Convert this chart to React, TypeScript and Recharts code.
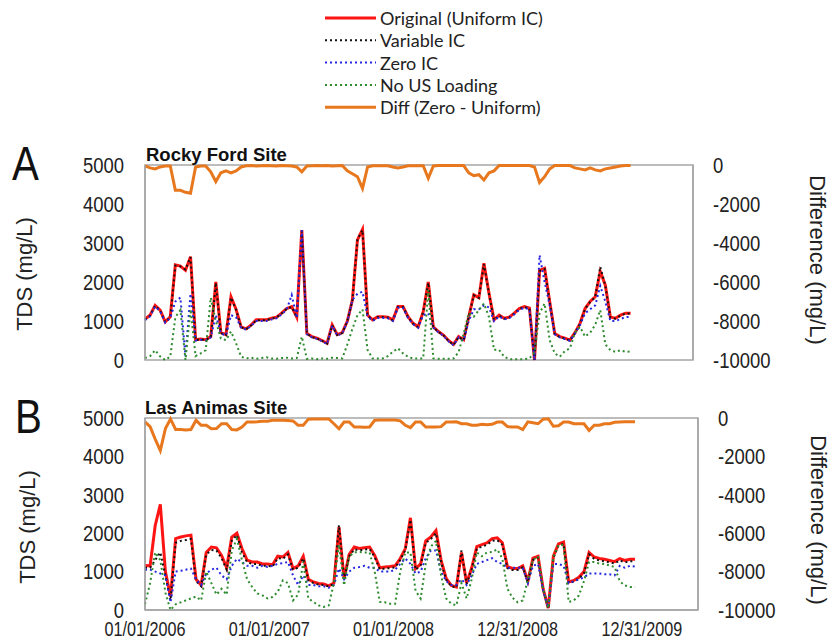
import React from "react";
import { LineChart, Line, XAxis, YAxis, ReferenceArea } from "recharts";

// ---------- shared axis data ----------
const days = [
  0, 15, 30, 45, 60, 75, 90, 105, 120, 135, 150, 165, 180, 195, 210, 225, 240, 255, 270, 285,
  300, 315, 330, 345, 360, 375, 390, 405, 420, 435, 450, 465, 480, 495, 510, 525, 540, 555, 570, 585,
  600, 615, 630, 645, 660, 675, 690, 705, 720, 735, 750, 765, 780, 795, 810, 825, 840, 855, 870, 885,
  900, 915, 930, 945, 960, 975, 990, 1005, 1020, 1035, 1050, 1065, 1080, 1095, 1110, 1125, 1140, 1155, 1170, 1185,
  1200, 1215, 1230, 1245, 1260, 1275, 1290, 1305, 1320, 1335, 1350, 1365, 1380, 1395, 1410, 1425, 1440,
];
const xTicks = [0, 365, 730, 1095, 1460];
const xTickLabels = ["01/01/2006", "01/01/2007", "01/01/2008", "12/31/2008", "12/31/2009"];
const tdsTicks = [0, 1000, 2000, 3000, 4000, 5000];
const diffTicks = [-10000, -8000, -6000, -4000, -2000, 0];
const seriesNames = ["Original (Uniform IC)", "Variable IC", "Zero IC", "No US Loading", "Diff (Zero - Uniform)"];

// ---------- Rocky Ford Site (A) ----------
const rockyOriginal = [
  1050, 1150, 1400, 1280, 980, 1110, 2440, 2410, 2300, 2650,
  520, 540, 520, 600, 2000, 700, 650, 1620, 1300, 850,
  800, 900, 1030, 1030, 1030, 1070, 1100, 1200, 1320, 1370,
  1100, 3330, 680, 600, 560, 500, 430, 900, 650, 700,
  1000, 1540, 3080, 3350, 1150, 1030, 1110, 1110, 1100, 1030,
  1370, 1370, 1110, 940, 850, 1240, 2000, 850, 730, 640,
  500, 400, 600, 520, 1110, 1670, 1600, 2480, 1710, 1030,
  1150, 1070, 1100, 1200, 1320, 1370, 1330, 0, 2300, 2350,
  1500, 680, 600, 560, 510, 700, 940, 1320, 1500, 1620,
  2270, 1920, 1100, 1070, 1150, 1200, 1200,
];
const rockyVariable = [
  1040, 1140, 1390, 1270, 970, 1100, 2420, 2400, 2320, 2640,
  510, 530, 510, 590, 1980, 690, 640, 1600, 1290, 840,
  790, 890, 1020, 1020, 1020, 1060, 1090, 1190, 1310, 1360,
  1090, 3300, 670, 590, 550, 490, 420, 890, 640, 690,
  990, 1530, 3100, 3330, 1140, 1020, 1100, 1100, 1090, 1020,
  1360, 1360, 1100, 930, 840, 1230, 1980, 840, 720, 630,
  490, 390, 590, 510, 1100, 1660, 1590, 2460, 1700, 1020,
  1140, 1060, 1090, 1190, 1310, 1360, 1320, 0, 2280, 2330,
  1490, 670, 590, 550, 500, 690, 930, 1310, 1490, 1610,
  2390, 1910, 1090, 1060, 1140, 1190, 1190,
];
const rockyZero = [
  1020, 1120, 1370, 1250, 960, 1080, 1500, 1600, 100, 1700,
  500, 520, 500, 580, 1150, 680, 630, 1150, 1100, 830,
  780, 880, 1000, 1000, 1000, 1040, 1070, 1170, 1290, 1670,
  1080, 3330, 660, 580, 540, 480, 410, 880, 630, 680,
  980, 1540, 1700, 1750, 1120, 1000, 1080, 1080, 1070, 1000,
  1340, 1340, 1080, 920, 830, 1150, 1200, 830, 710, 620,
  480, 380, 580, 500, 1000, 1300, 1300, 1400, 1350, 1000,
  1120, 1040, 1070, 1170, 1290, 1340, 1300, 0, 2690, 2000,
  1400, 660, 580, 540, 490, 680, 900, 1200, 1300, 1400,
  1900, 1500, 1000, 1000, 1050, 1100, 1100,
];
const rockyNoUS = [
  50, 100, 250, 90, 0, 90, 1100, 1280, 0, 1300,
  100, 170, 250, 1600, 1000, 550, 510, 730, 430, 85,
  40, 60, 30, 50, 70, 40, 30, 50, 60, 40,
  50, 600, 30, 40, 20, 40, 30, 60, 50, 40,
  400, 800, 1150, 1300, 260, 40, 40, 40, 100, 210,
  300, 170, 80, 40, 40, 40, 1800, 40, 30, 30,
  30, 40, 200, 680, 1200, 1110, 1280, 1450, 1100, 260,
  260, 85, 20, 20, 20, 20, 40, 200, 1200, 1450,
  510, 170, 85, 230, 300, 700, 850, 600, 700, 900,
  1280, 400, 250, 210, 250, 210, 220,
];
const rockyDiff = [
  -50, -150, -200, -100, -50, -50, -1300, -1300, -1400, -1450,
  -100, -50, -50, -350, -850, -400, -300, -400, -300, -100,
  -40, -30, -50, -40, -30, -40, -50, -30, -40, -50,
  -100, -350, -50, -40, -30, -40, -30, -50, -40, -30,
  -300, -450, -600, -1200, -100, -40, -40, -40, -40, -100,
  -150, -100, -40, -40, -40, -40, -680, -50, -30, -30,
  -30, -30, -30, -30, -400, -550, -500, -770, -400, -300,
  -30, -30, -30, -30, -30, -30, -30, -100, -900, -600,
  -200, -30, -30, -30, -30, -150, -200, -250, -150, -250,
  -300, -200, -150, -100, -50, -30, -30,
];

// ---------- Las Animas Site (B) ----------
const animasOriginal = [
  1160, 1150, 2200, 2750, 1000, 350, 1860, 1900, 1930, 1950,
  800, 650, 1500, 1640, 1620, 1420, 1100, 1900, 2000, 1600,
  1300, 1250, 1250, 1200, 1200, 1180, 1400, 1380, 1500, 1080,
  1150, 1400, 800, 730, 690, 680, 630, 700, 2160, 820,
  1450, 1640, 1600, 1620, 1640, 1420, 1100, 1120, 1130, 1150,
  1340, 1600, 2400, 1080, 1200, 1800, 1900, 2070, 1300, 820,
  640, 600, 1500, 700, 1100, 1650, 1700, 1750, 1860, 1880,
  1750, 1130, 1080, 1080, 1150, 750, 1350, 1400, 550, 50,
  1400, 1720, 1770, 730, 770, 850, 1000, 1500, 1380, 1340,
  1320, 1290, 1260, 1340, 1290, 1320, 1320,
];
const animasVariable = [
  1100, 1100, 1300, 1500, 900, 250, 1750, 1800, 1820, 1850,
  750, 620, 1450, 1560, 1550, 1350, 1050, 1800, 1950, 1500,
  1250, 1200, 1200, 1150, 1150, 1130, 1350, 1330, 1450, 1050,
  1100, 1350, 780, 700, 660, 650, 610, 680, 2210, 800,
  1400, 1580, 1550, 1570, 1590, 1380, 1060, 1080, 1090, 1110,
  1300, 1560, 2350, 1050, 1160, 1750, 1850, 2000, 1250, 790,
  620, 580, 1550, 680, 1060, 1600, 1650, 1700, 1800, 1820,
  1700, 1090, 1040, 1040, 1110, 720, 1300, 1360, 530, 40,
  1350, 1680, 1720, 700, 740, 820, 960, 1450, 1330, 1290,
  1270, 1240, 1210, 1290, 1240, 1270, 1270,
];
const animasZero = [
  1050, 1050, 1000, 950, 900, 200, 1000, 1020, 1050, 1080,
  800, 650, 950, 1050, 1100, 900, 800, 1150, 1330, 1250,
  1150, 1150, 1100, 1150, 1120, 1150, 1200, 1220, 1250, 900,
  650, 900, 650, 650, 620, 620, 580, 650, 1080, 800,
  1000, 1100, 1120, 1150, 1100, 1100, 1000, 1000, 1000, 1050,
  1200, 1340, 1200, 950, 1000, 1350, 1550, 1550, 1000, 750,
  650, 650, 800, 650, 900, 1200, 1250, 1300, 1350, 1250,
  1200, 1100, 1100, 1100, 1100, 700, 1150, 1200, 500, 60,
  1200, 1200, 1150, 700, 750, 800, 850, 950, 950, 950,
  930, 930, 900, 1150, 1100, 1150, 1130,
];
const animasNoUS = [
  150, 700, 1500, 1300, 450, 0, 150, 200, 250, 300,
  350, 250, 1000, 700, 400, 550, 400, 1550, 1850, 1300,
  800, 600, 430, 380, 300, 340, 470, 770, 700, 250,
  400, 1250, 300, 210, 120, 80, 120, 700, 1700, 640,
  1400, 1500, 1510, 1500, 1500, 1000, 210, 200, 165, 165,
  1000, 1500, 1500, 500, 300, 1200, 1650, 1800, 900, 300,
  165, 120, 700, 300, 800, 1500, 1400, 1500, 1510, 1580,
  1340, 550, 320, 200, 250, 800, 1300, 1400, 550, 50,
  1400, 1690, 1690, 210, 250, 380, 750, 1250, 1250, 1210,
  1200, 1160, 1120, 750, 640, 600, 600,
];
const animasDiff = [
  -200, -450, -1100, -1700, -550, -50, -600, -600, -620, -600,
  -120, -380, -380, -560, -550, -300, -300, -600, -620, -470,
  -210, -210, -200, -170, -170, -120, -120, -120, -130, -150,
  -380, -380, -60, -50, -50, -50, -50, -300, -560, -210,
  -210, -470, -470, -480, -470, -120, -100, -100, -100, -100,
  -150, -380, -500, -210, -210, -470, -470, -470, -450, -210,
  -210, -200, -300, -300, -380, -380, -330, -350, -330, -210,
  -210, -450, -470, -470, -600, -200, -250, -300, -60, -40,
  -430, -400, -210, -210, -300, -300, -300, -650, -380, -380,
  -300, -300, -220, -210, -200, -200, -200,
];

// ---------- styling ----------
const SANS = "'Liberation Sans',Arial,sans-serif";
const AXIS_GRAY = "#a6a6a6";
const TEXT = "#222";
const COLORS = {
  orig: "#ff1414",
  variable: "#111111",
  zero: "#2626e0",
  noUS: "#2e8b2e",
  diff: "#e8781e",
};

function buildRows(orig: number[], variable: number[], zero: number[], noUS: number[], diff: number[]) {
  return days.map((d, i) => ({
    day: d,
    orig: orig[i],
    variable: variable[i],
    zero: zero[i],
    noUS: noUS[i],
    diff: diff[i],
  }));
}

const rowsA = buildRows(rockyOriginal, rockyVariable, rockyZero, rockyNoUS, rockyDiff);
const rowsB = buildRows(animasOriginal, animasVariable, animasZero, animasNoUS, animasDiff);

// condensed tick labels (the reference uses a narrow face)
function YTick(props: any) {
  const { x, y, payload, textAnchor } = props;
  return (
    <g transform={`translate(${x},${y})`}>
      <text transform="scale(0.84,1)" textAnchor={textAnchor} dy="0.355em" fontSize={22} fontFamily={SANS} fill={TEXT}>
        {String(payload.value)}
      </text>
    </g>
  );
}

function XTick(props: any) {
  const { x, y, payload } = props;
  const idx = xTicks.indexOf(payload.value);
  return (
    <g transform={`translate(${x},${y})`}>
      <text transform="scale(0.77,1)" textAnchor="middle" dy="0.71em" fontSize={21} fontFamily={SANS} fill={TEXT}>
        {idx >= 0 ? xTickLabels[idx] : ""}
      </text>
    </g>
  );
}

type PanelProps = {
  top: number;
  height: number;
  bottom: number;
  rightAxisWidth: number;
  rows: any[];
  showXAxis: boolean;
};

function Panel({ top, height, bottom, rightAxisWidth, rows, showXAxis }: PanelProps) {
  return (
    <div style={{ position: "absolute", left: 0, top, width: 830, height }}>
      <LineChart
        width={830}
        height={height}
        data={rows}
        margin={{ top: 45, right: 0, bottom, left: 0 }}
      >
        <XAxis
          dataKey="day"
          type="number"
          domain={[0, 1625]}
          ticks={xTicks}
          interval={0}
          hide={!showXAxis}
          height={34}
          tickLine={false}
          tickSize={0}
          tickMargin={11}
          axisLine={{ stroke: AXIS_GRAY, strokeWidth: 1.5 }}
          tick={<XTick />}
        />
        <YAxis
          yAxisId="tds"
          orientation="left"
          domain={[0, 5000]}
          ticks={tdsTicks}
          interval={0}
          width={145}
          tickLine={false}
          tickSize={0}
          tickMargin={21}
          axisLine={{ stroke: AXIS_GRAY, strokeWidth: 1.5 }}
          tick={<YTick />}
        />
        <YAxis
          yAxisId="diff"
          orientation="right"
          domain={[-10000, 0]}
          ticks={diffTicks}
          interval={0}
          width={rightAxisWidth}
          tickLine={false}
          tickSize={0}
          tickMargin={20}
          axisLine={{ stroke: AXIS_GRAY, strokeWidth: 1.5 }}
          tick={<YTick />}
        />
        <ReferenceArea
          yAxisId="tds"
          x1={0}
          x2={1625}
          y1={0}
          y2={5000}
          fill="none"
          stroke={AXIS_GRAY}
          strokeWidth={1.5}
        />
        <Line yAxisId="tds" type="linear" dataKey="orig" name={seriesNames[0]} stroke={COLORS.orig} strokeWidth={3} dot={false} isAnimationActive={false} />
        <Line yAxisId="tds" type="linear" dataKey="variable" name={seriesNames[1]} stroke={COLORS.variable} strokeWidth={2} strokeDasharray="2 3" dot={false} isAnimationActive={false} />
        <Line yAxisId="tds" type="linear" dataKey="zero" name={seriesNames[2]} stroke={COLORS.zero} strokeWidth={2} strokeDasharray="2 3" dot={false} isAnimationActive={false} />
        <Line yAxisId="tds" type="linear" dataKey="noUS" name={seriesNames[3]} stroke={COLORS.noUS} strokeWidth={2} strokeDasharray="2 3" dot={false} isAnimationActive={false} />
        <Line yAxisId="diff" type="linear" dataKey="diff" name={seriesNames[4]} stroke={COLORS.diff} strokeWidth={3} dot={false} isAnimationActive={false} />
      </LineChart>
    </div>
  );
}

function LegendBlock() {
  const items = [
    { color: COLORS.orig, dash: undefined, w: 3 },
    { color: COLORS.variable, dash: "2 3", w: 2 },
    { color: COLORS.zero, dash: "2 3", w: 2 },
    { color: COLORS.noUS, dash: "2 3", w: 2 },
    { color: COLORS.diff, dash: undefined, w: 3 },
  ];
  return (
    <svg style={{ position: "absolute", left: 0, top: 0 }} width={830} height={120}>
      {items.map((it, i) => {
        const y = 18 + i * 22.3;
        return (
          <g key={i}>
            <line x1={325} x2={376} y1={y} y2={y} stroke={it.color} strokeWidth={it.w} strokeDasharray={it.dash} />
            <text x={380} y={y} dominantBaseline="central" fontFamily="Lato, 'Open Sans', sans-serif" fontSize={18} fill="#222">
              {seriesNames[i]}
            </text>
          </g>
        );
      })}
    </svg>
  );
}

function Titles() {
  return (
    <svg style={{ position: "absolute", left: 0, top: 0, pointerEvents: "none" }} width={830} height={644}>
      <g transform="translate(12,180) scale(0.84,1)">
        <text x={0} y={0} fontFamily={SANS} fontSize={48} fill="#111">A</text>
      </g>
      <g transform="translate(15,433) scale(0.84,1)">
        <text x={0} y={0} fontFamily={SANS} fontSize={48} fill="#111">B</text>
      </g>
      <text x={146} y={161} fontFamily={SANS} fontWeight="bold" fontSize={18.5} fill="#111">Rocky Ford Site</text>
      <text x={145} y={414} fontFamily={SANS} fontWeight="bold" fontSize={18.5} fill="#111">Las Animas Site</text>
      <text x={24} y={274} transform="rotate(-90 24 274)" textAnchor="middle" dominantBaseline="central" fontFamily={SANS} fontSize={22} fill={TEXT}>TDS (mg/L)</text>
      <text x={27} y={527} transform="rotate(-90 27 527)" textAnchor="middle" dominantBaseline="central" fontFamily={SANS} fontSize={22} fill={TEXT}>TDS (mg/L)</text>
      <text x={817} y={260} transform="rotate(90 817 260)" textAnchor="middle" dominantBaseline="central" fontFamily={SANS} fontSize={22} fill={TEXT}>Difference (mg/L)</text>
      <text x={818} y={520} transform="rotate(90 818 520)" textAnchor="middle" dominantBaseline="central" fontFamily={SANS} fontSize={22} fill={TEXT}>Difference (mg/L)</text>
    </svg>
  );
}

export default function App() {
  return (
    <div style={{ position: "absolute", left: 0, top: 0, width: 830, height: 644, background: "#fff", overflow: "hidden" }}>
      <LegendBlock />
      <Panel top={120} height={262} bottom={22} rightAxisWidth={137} rows={rowsA} showXAxis={false} />
      <Panel top={373} height={271} bottom={0} rightAxisWidth={132} rows={rowsB} showXAxis={true} />
      <Titles />
    </div>
  );
}
